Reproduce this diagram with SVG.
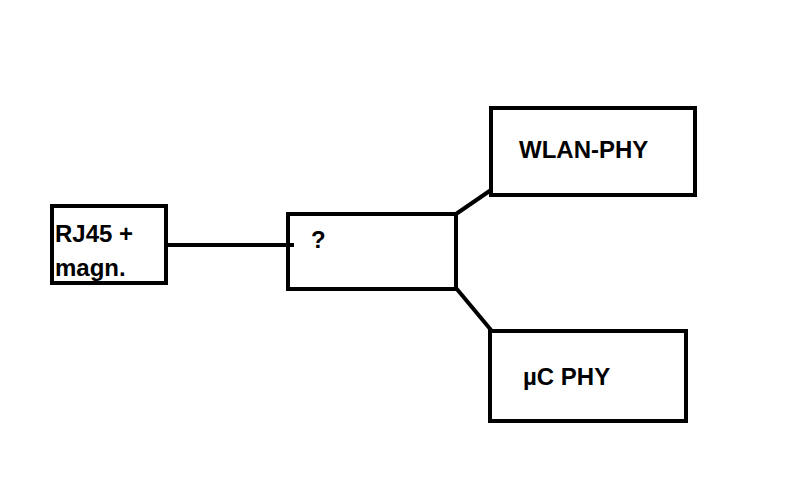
<svg xmlns="http://www.w3.org/2000/svg" width="794" height="493" viewBox="0 0 794 493">
<style>
.box{fill:#fff;stroke:#000;stroke-width:4}
.lbl{font-family:"Liberation Sans",Arial,sans-serif;font-weight:bold;font-size:24px;fill:#000}
.con{stroke:#000;stroke-width:4;fill:none}
</style>
<rect width="794" height="493" fill="#fff"/>
<g id="rj45">
<rect class="box" x="52" y="206" width="114" height="77"/>
<text class="lbl" x="55" y="242">RJ45 +</text>
<text class="lbl" x="55" y="276">magn.</text>
</g>
<g id="unknown">
<rect class="box" x="288" y="214" width="168" height="75"/>
<text class="lbl" x="311" y="248">?</text>
</g>
<g id="wlan">
<rect class="box" x="491" y="108" width="204" height="87"/>
<text class="lbl" x="519" y="158">WLAN-PHY</text>
</g>
<g id="uc">
<rect class="box" x="490" y="331" width="196" height="90"/>
<text class="lbl" x="523" y="385">µC PHY</text>
</g>
<g id="connectors">
<line class="con" x1="166" y1="245" x2="294" y2="245"/>
<line class="con" x1="456" y1="214" x2="491" y2="190"/>
<line class="con" x1="456" y1="288" x2="491" y2="330"/>
</g>
</svg>
